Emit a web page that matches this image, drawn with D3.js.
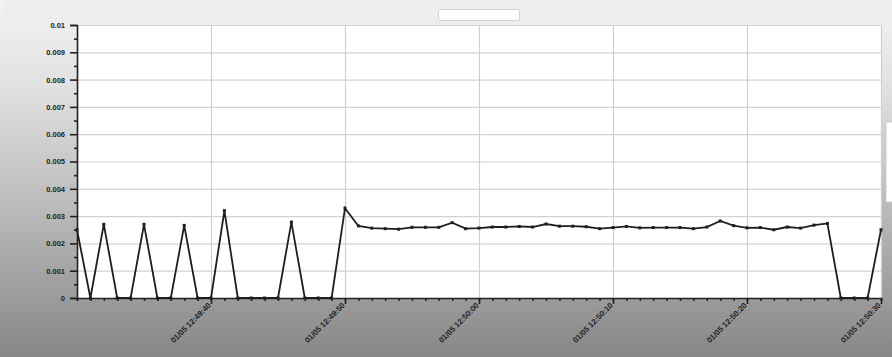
<!DOCTYPE html>
<html lang="en">
<head>
  <meta charset="UTF-8">
  <title>Time series</title>
  <script src="https://d3js.org/d3.v7.min.js"></script>
  <style>
    html, body { margin: 0; padding: 0; background: #fff; }
    svg { display: block; font-family: "DejaVu Sans", sans-serif; }
  </style>
</head>
<body>
<svg id="chart" width="892" height="357"></svg>
<script>
// one sample per second, starting 01/05 12:49:30
const startTime = "2000-01-05T12:49:30";
const values = [
  0.0025, 0, 0.0027, 0, 0, 0.0027, 0, 0, 0.00266, 0,
  0, 0.0032, 0, 0, 0, 0, 0.00278, 0, 0, 0,
  0.00329, 0.00264, 0.00256, 0.00254, 0.00252, 0.00259, 0.00259, 0.00259, 0.00276, 0.00254,
  0.00256, 0.0026, 0.0026, 0.00262, 0.0026, 0.00271, 0.00263, 0.00263, 0.00261, 0.00254,
  0.00258, 0.00262, 0.00257, 0.00258, 0.00258, 0.00258, 0.00254, 0.0026, 0.00282, 0.00265,
  0.00257, 0.00258, 0.0025, 0.0026, 0.00256, 0.00267, 0.00273, 0, 0, 0,
  0.0025
];
const yTicks = [0, 0.001, 0.002, 0.003, 0.004, 0.005, 0.006, 0.007, 0.008, 0.009, 0.01];
const yTickLabels = ["0", "0.001", "0.002", "0.003", "0.004", "0.005", "0.006", "0.007", "0.008", "0.009", "0.01"];

const svg = d3.select("#chart");
const W = 892, H = 357;
const margin = {top: 25, right: 11, bottom: 59, left: 77};

const t0 = new Date(startTime);
const data = values.map((v, i) => ({t: new Date(t0.getTime() + i * 1000), v}));

// background gradient
const defs = svg.append("defs");
const grad = defs.append("linearGradient").attr("id", "bg")
  .attr("x1", 0).attr("y1", 0).attr("x2", 0).attr("y2", 1);
grad.append("stop").attr("offset", 0).attr("stop-color", "#f3f3f3");
grad.append("stop").attr("offset", 0.25).attr("stop-color", "#e0e0e0");
grad.append("stop").attr("offset", 0.6).attr("stop-color", "#b8b8b8");
grad.append("stop").attr("offset", 1).attr("stop-color", "#878787");
svg.append("rect").attr("width", W).attr("height", H).attr("fill", "url(#bg)");
svg.append("rect").attr("x", 3).attr("y", 0).attr("width", W - 3).attr("height", 22)
  .attr("fill", "#ededed").attr("opacity", 0.7);

// empty legend box at top
svg.append("rect").attr("x", 438.5).attr("y", 9.5).attr("width", 81).attr("height", 11).attr("rx", 2)
  .attr("fill", "#fff").attr("stroke", "#d4d4d4");
// box on right edge
svg.append("rect").attr("x", 886).attr("y", 122).attr("width", 8).attr("height", 80)
  .attr("fill", "#fff").attr("stroke", "#ccc");

const x = d3.scaleTime()
  .domain([t0, data[data.length - 1].t])
  .range([margin.left, W - margin.right]);
const y = d3.scaleLinear()
  .domain([0, 0.01])
  .range([H - margin.bottom, margin.top]);

// plot area
svg.append("rect")
  .attr("x", margin.left).attr("y", margin.top)
  .attr("width", x.range()[1] - margin.left).attr("height", y(0) - margin.top)
  .attr("fill", "#fff");

// grid
svg.append("g")
  .selectAll("line")
  .data(yTicks)
  .join("line")
  .attr("x1", margin.left).attr("x2", x.range()[1])
  .attr("y1", d => y(d) + 0.5).attr("y2", d => y(d) + 0.5)
  .attr("stroke", "#d2d2d2").attr("stroke-width", 1.2);
const majorX = x.ticks(d3.timeSecond.every(10));
svg.append("g")
  .selectAll("line")
  .data(majorX)
  .join("line")
  .attr("x1", d => x(d) + 0.5).attr("x2", d => x(d) + 0.5)
  .attr("y1", margin.top).attr("y2", y(0))
  .attr("stroke", "#cfcfcf").attr("stroke-width", 1.2);

// y axis
const yAxis = svg.append("g")
  .attr("transform", `translate(${margin.left},0)`)
  .call(d3.axisLeft(y).tickValues(yTicks).tickSize(7).tickPadding(5)
    .tickFormat((d, i) => yTickLabels[i]));
yAxis.select(".domain").attr("stroke", "#222").attr("stroke-width", 1.6);
yAxis.selectAll(".tick line").attr("stroke", "#222").attr("stroke-width", 1.6);
yAxis.selectAll("text").attr("font-size", 7.5).attr("font-weight", "bold").attr("fill", "#222");
svg.append("g")
  .attr("transform", `translate(${margin.left},0)`)
  .call(d3.axisLeft(y).tickValues(d3.range(0.0005, 0.01, 0.001)).tickSize(3).tickFormat(""))
  .call(g => g.select(".domain").remove())
  .selectAll(".tick line").attr("stroke", "#222").attr("stroke-width", 1.6);

// x axis: minor ticks every second, labelled major ticks every 10 s
const fmt = d3.timeFormat("%m/%d %H:%M:%S");
svg.append("g")
  .attr("transform", `translate(0,${y(0)})`)
  .call(d3.axisBottom(x).ticks(d3.timeSecond.every(1)).tickSize(3).tickFormat(""))
  .call(g => g.select(".domain").attr("stroke", "#222").attr("stroke-width", 1.6))
  .selectAll(".tick line").attr("stroke", "#222").attr("stroke-width", 1.6);
const xAxis = svg.append("g")
  .attr("transform", `translate(0,${y(0)})`)
  .call(d3.axisBottom(x).tickValues(majorX.slice(1)).tickSize(6).tickFormat(fmt));
xAxis.select(".domain").remove();
xAxis.selectAll(".tick line").attr("stroke", "#222").attr("stroke-width", 1.6);
xAxis.selectAll("text")
  .attr("font-size", 7.8).attr("font-weight", "bold").attr("fill", "#222")
  .attr("text-anchor", "end")
  .attr("dy", "0.35em")
  .attr("transform", "translate(-2,6) rotate(-45)")
  .attr("x", 0).attr("y", 0);

// series
svg.append("path")
  .datum(data)
  .attr("fill", "none")
  .attr("stroke", "#1e1e1e")
  .attr("stroke-width", 1.8)
  .attr("stroke-linejoin", "miter")
  .attr("d", d3.line().x(d => x(d.t)).y(d => y(d.v)));
svg.append("g")
  .selectAll("rect")
  .data(data)
  .join("rect")
  .attr("x", d => x(d.t) - 1.5).attr("y", d => y(d.v) - 1.5)
  .attr("width", 3).attr("height", 3)
  .attr("fill", "#1e1e1e");
</script>
</body>
</html>
